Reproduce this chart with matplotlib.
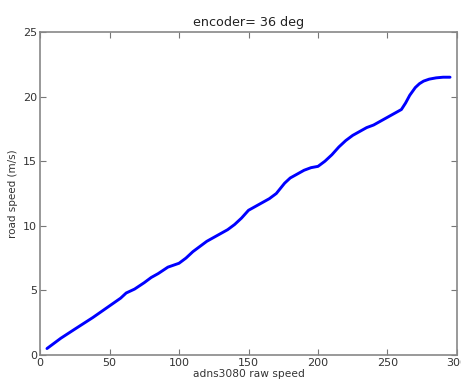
import numpy as np
import matplotlib
matplotlib.use('Agg')
import matplotlib.pyplot as plt

# raw optical-flow counts vs measured road speed
raw_speed = [5, 15, 25, 38, 50, 58, 62, 68, 75, 80, 85, 92, 100, 105, 110,
             115, 120, 125, 130, 135, 140, 145, 150, 155, 160, 165, 170, 173,
             176, 180, 185, 190, 195, 200, 205, 210, 215, 220, 225, 230, 235,
             240, 245, 250, 255, 260, 263, 266, 270, 273, 276, 280, 285, 290,
             295]
road_speed = [0.5, 1.3, 2.0, 2.9, 3.8, 4.4, 4.8, 5.1, 5.6, 6.0, 6.3, 6.8,
              7.1, 7.5, 8.0, 8.4, 8.8, 9.1, 9.4, 9.7, 10.1, 10.6, 11.2, 11.5,
              11.8, 12.1, 12.5, 12.9, 13.3, 13.7, 14.0, 14.3, 14.5, 14.6,
              15.0, 15.5, 16.1, 16.6, 17.0, 17.3, 17.6, 17.8, 18.1, 18.4,
              18.7, 19.0, 19.5, 20.1, 20.7, 21.0, 21.2, 21.35, 21.45, 21.5,
              21.5]

font = {'family': 'DejaVu Sans', 'size': 7.5}
matplotlib.rc('font', **font)

fig = plt.figure(figsize=(4.61, 3.84), dpi=100)
ax = fig.add_axes([0.0868, 0.0755, 0.9045, 0.8412])

ax.plot(raw_speed, road_speed, color='#0000ff', lw=2.1, solid_capstyle='round')

ax.set_xlim(0, 300)
ax.set_ylim(0, 25)
ax.set_xticks(np.arange(0, 301, 50))
ax.set_yticks(np.arange(0, 26, 5))

ax.tick_params(direction='in', length=4, width=0.8, top=True, right=True,
               colors='#777777', labelcolor='#333333', labelsize=8, pad=2)
for s in ax.spines.values():
    s.set_color('#888888')
    s.set_linewidth(1.2)

ax.set_title('encoder= 36 deg', fontsize=9.2, color='#222222', pad=4)
ax.set_xlabel('adns3080 raw speed', fontsize=7.7, color='#333333', labelpad=1)
ax.set_ylabel('road speed (m/s)', fontsize=7.5, color='#333333', labelpad=4)

fig.savefig('out.png', dpi=100)
